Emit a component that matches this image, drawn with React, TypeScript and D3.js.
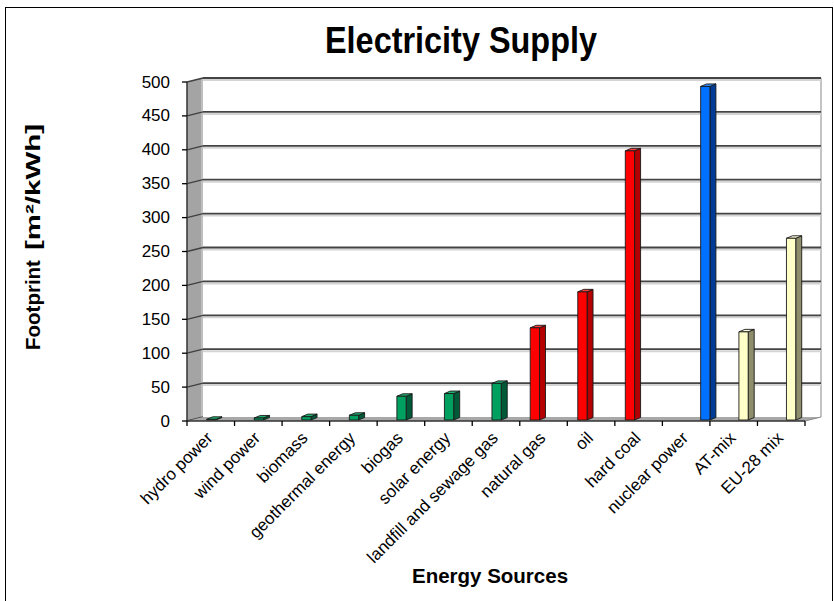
import React from 'react';
import { scaleBand, scaleLinear } from 'd3';

const categories = [
  'hydro power',
  'wind power',
  'biomass',
  'geothermal energy',
  'biogas',
  'solar energy',
  'landfill and sewage gas',
  'natural gas',
  'oil',
  'hard coal',
  'nuclear power',
  'AT-mix',
  'EU-28 mix',
];

// one series per bar colour, null = no bar in that category
const fossil = [null, null, null, null, null, null, null, 136, 189, 397, null, null, null];
const renewable = [1, 3, 5, 7, 35, 39, 54, null, null, null, null, null, null];
const mixes = [null, null, null, null, null, null, null, null, null, null, null, 130, 268];
const nuclear = [null, null, null, null, null, null, null, null, null, null, 492, null, null];

const yTicks = [0, 50, 100, 150, 200, 250, 300, 350, 400, 450, 500];

const series = [
  { key: 'fossil', values: fossil, front: '#ff0000', side: '#b30000', top: '#ff4040' },
  { key: 'renewable', values: renewable, front: '#00a060', side: '#005a38', top: '#20b070' },
  { key: 'mixes', values: mixes, front: '#ffffc8', side: '#8e8e6c', top: '#ffffe0' },
  { key: 'nuclear', values: nuclear, front: '#0070ff', side: '#003c96', top: '#3090ff' },
];

const FONT = '"Liberation Sans", Arial, sans-serif';

const left = 187;
const right = 805;
const top = 82;
const bottom = 421;
const DX = 16; // depth of the 3d box
const DY = -4;
const BDX = 6; // depth of a bar
const BDY = -2.5;

const App = () => {
  const x = scaleBand<string>().domain(categories).range([left, right]);
  const x1 = scaleBand<string>()
    .domain(series.map((s) => s.key))
    .range([x.bandwidth() * 0.22, x.bandwidth()]);
  const yFront = scaleLinear().domain([0, 500]).range([bottom, top]);
  const yBar = scaleLinear().domain([0, 500]).range([bottom - 1, top - 1]);
  const bw = x1.bandwidth();
  const bx0 = left + DX;
  const bx1 = right + DX;

  const pts = (p: number[][]) => p.map((d) => d.join(',')).join(' ');

  return (
    <svg
      width={834}
      height={601}
      style={{ position: 'absolute', left: 0, top: 0, background: '#fff' }}
      fontFamily={FONT}
    >
      <rect x={5.5} y={7.5} width={827} height={640} fill="#fff" stroke="#000" strokeWidth={1} />

      <text x={461} y={53} textAnchor="middle" fontSize={37} fontWeight="bold" textLength={272} lengthAdjust="spacingAndGlyphs">
        Electricity Supply
      </text>

      {/* back wall outline */}
      <line x1={bx0} y1={top + DY} x2={bx1} y2={top + DY} stroke="#a0a0a0" strokeWidth={1.5} />
      <line x1={bx1} y1={top + DY} x2={bx1} y2={bottom + DY} stroke="#b0b0b0" strokeWidth={1.5} />

      {/* gridlines on the back wall */}
      {yTicks.filter((t) => t > 0).map((t) => (
        <g key={t}>
          <line x1={bx0} x2={bx1} y1={yFront(t) + DY + 2} y2={yFront(t) + DY + 2} stroke="#d4d4d4" strokeWidth={2} />
          <line x1={bx0} x2={bx1} y1={yFront(t) + DY} y2={yFront(t) + DY} stroke="#444" strokeWidth={1.8} />
        </g>
      ))}

      {/* side wall */}
      <polygon
        points={pts([[left, bottom], [left, top], [bx0, top + DY], [bx0, bottom + DY]])}
        fill="#a4a4a4"
      />
      <line x1={bx0 - 1} y1={top + DY} x2={bx0 - 1} y2={bottom + DY} stroke="#c8c8c8" strokeWidth={1.5} />
      {yTicks.map((t) => (
        <line key={t} x1={left} y1={yFront(t)} x2={bx0} y2={yFront(t) + DY} stroke="#404040" strokeWidth={1.3} />
      ))}

      {/* floor */}
      <polygon
        points={pts([[left, bottom], [right, bottom], [bx1, bottom + DY], [bx0, bottom + DY]])}
        fill="#a8a8a8"
      />

      {/* bars */}
      {series.map((s) =>
        s.values.map((v, i) => {
          if (v == null) return null;
          const xf = (x(categories[i]) ?? 0) + (x1(s.key) ?? 0);
          const yt = yBar(v);
          const yb = yBar(0);
          return (
            <g key={s.key + i} stroke="#1a1a1a" strokeWidth={0.9} strokeLinejoin="round">
              <polygon points={pts([[xf + bw, yt], [xf + bw + BDX, yt + BDY], [xf + bw + BDX, yb + BDY], [xf + bw, yb]])} fill={s.side} />
              <polygon points={pts([[xf, yt], [xf + BDX, yt + BDY], [xf + bw + BDX, yt + BDY], [xf + bw, yt]])} fill={s.top} />
              <rect x={xf} y={yt} width={bw} height={yb - yt} fill={s.front} />
            </g>
          );
        })
      )}

      {/* axes */}
      <line x1={left} y1={top} x2={left} y2={bottom} stroke="#333" strokeWidth={1.5} />
      <line x1={left} y1={bottom} x2={right} y2={bottom} stroke="#333" strokeWidth={1.5} />
      <line x1={right} y1={bottom} x2={bx1} y2={bottom + DY} stroke="#888" strokeWidth={1} />
      {yTicks.map((t) => (
        <g key={t}>
          <line x1={left - 5} x2={left} y1={yFront(t)} y2={yFront(t)} stroke="#000" strokeWidth={1.3} />
          <text x={170} y={yFront(t)} textAnchor="end" dominantBaseline="central" fontSize={17}>
            {t}
          </text>
        </g>
      ))}
      {categories.concat(['']).map((c, i) => {
        const xt = left + i * x.step();
        return <line key={i} x1={xt} x2={xt} y1={bottom} y2={bottom + 5} stroke="#000" strokeWidth={1.3} />;
      })}
      {categories.map((c) => {
        const cx = (x(c) ?? 0) + x.bandwidth() / 2 + 3;
        return (
          <text key={c} x={cx} y={439} textAnchor="end" fontSize={17} transform={`rotate(-45,${cx},439)`}>
            {c}
          </text>
        );
      })}

      <text x={490} y={583} textAnchor="middle" fontSize={20.5} fontWeight="bold">
        Energy Sources
      </text>
      <g transform="translate(40,350) rotate(-90)" fontSize={20.5} fontWeight="bold">
        <text x={0} y={0}>Footprint</text>
        <text x={100} y={0} textLength={126} lengthAdjust="spacingAndGlyphs">
          [m²/kWh]
        </text>
      </g>
    </svg>
  );
};

export default App;
